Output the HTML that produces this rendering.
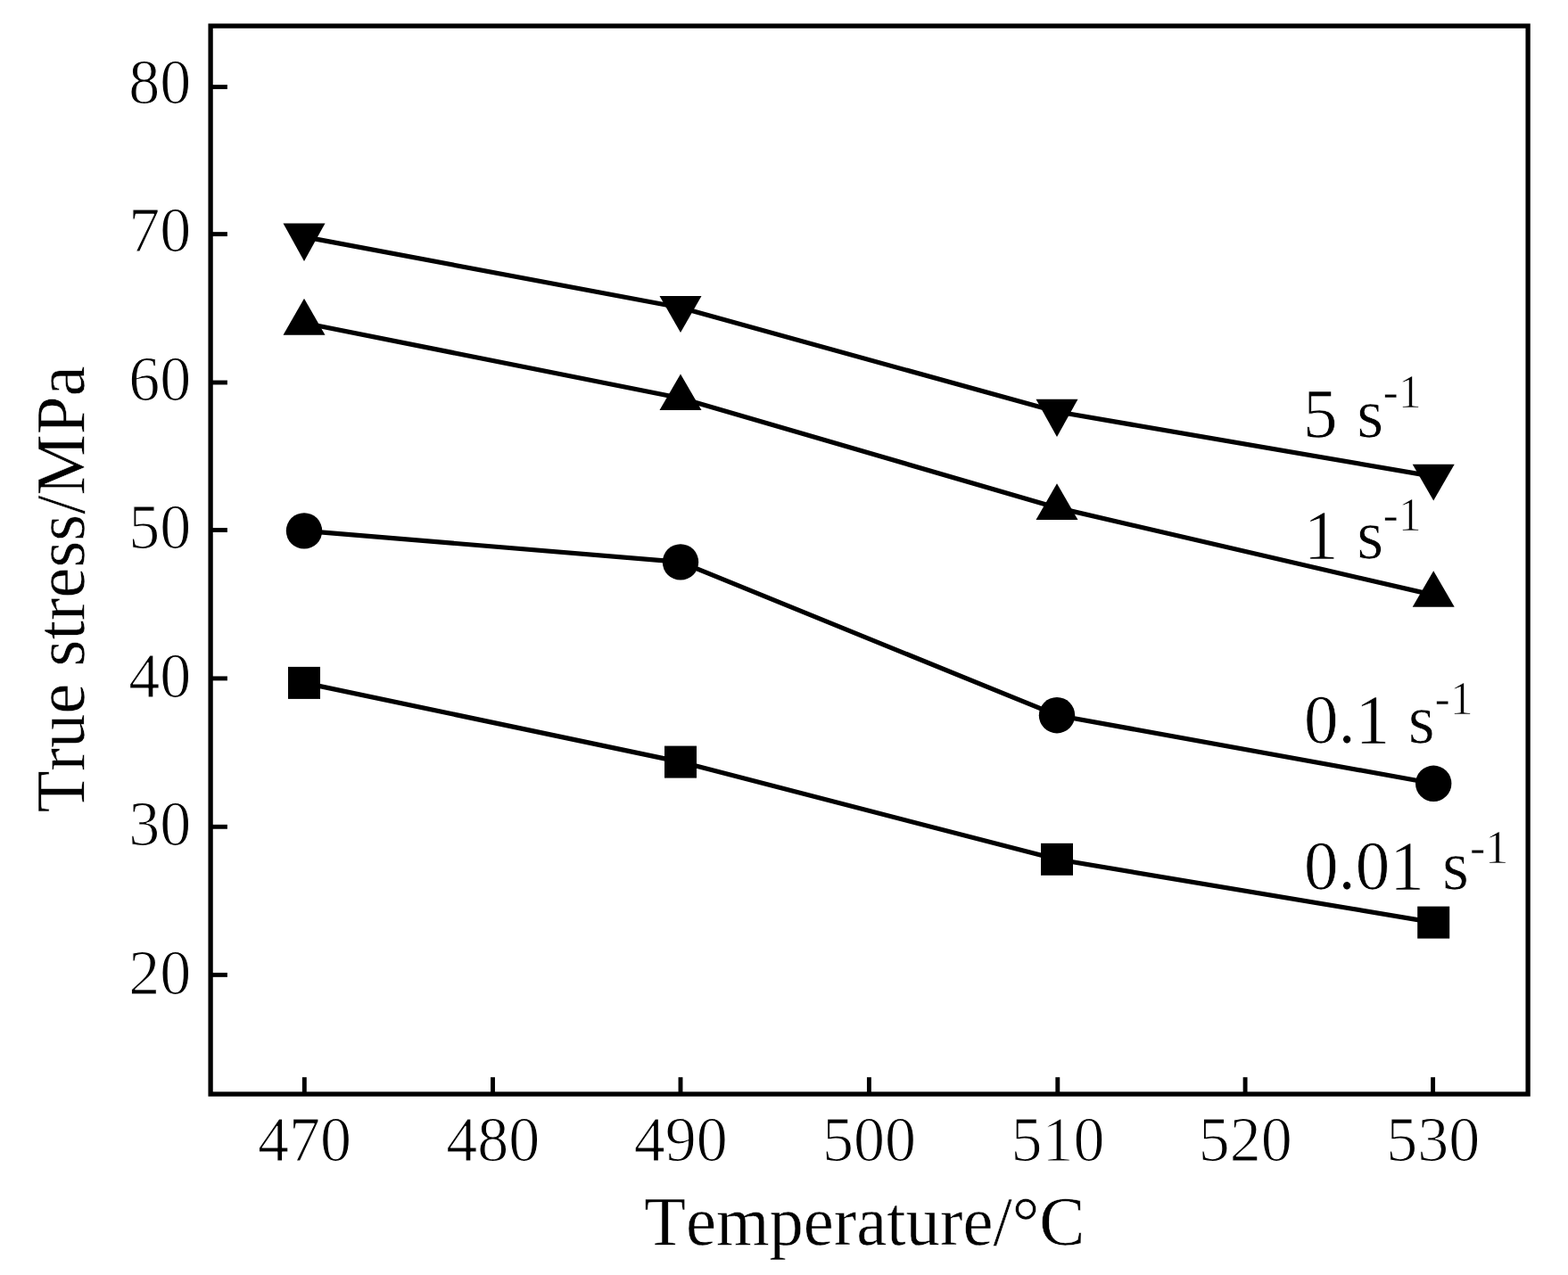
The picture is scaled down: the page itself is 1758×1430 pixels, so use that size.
<!DOCTYPE html>
<html lang="en"><head><meta charset="utf-8"><title>True stress vs temperature</title>
<style>html,body{margin:0;padding:0;background:#fff}body{width:1758px;height:1430px;overflow:hidden}svg{display:block}text{font-family:"Liberation Serif","DejaVu Serif",serif;fill:#000;font-kerning:none}</style>
</head><body>
<svg width="1758" height="1430" viewBox="0 0 1758 1430">
<rect x="0" y="0" width="1758" height="1430" fill="#fff"/>
<rect x="236.1" y="29.1" width="1477.0" height="1198.0" fill="none" stroke="#000" stroke-width="5.3"/>
<g stroke="#000" stroke-width="4.9">
<line x1="341.3" y1="1227.1" x2="341.3" y2="1208.2"/>
<line x1="552.5" y1="1227.1" x2="552.5" y2="1208.2"/>
<line x1="763.0" y1="1227.1" x2="763.0" y2="1208.2"/>
<line x1="974.4" y1="1227.1" x2="974.4" y2="1208.2"/>
<line x1="1185.8" y1="1227.1" x2="1185.8" y2="1208.2"/>
<line x1="1396.1" y1="1227.1" x2="1396.1" y2="1208.2"/>
<line x1="1606.6" y1="1227.1" x2="1606.6" y2="1208.2"/>
<line x1="236.1" y1="97.5" x2="254.9" y2="97.5"/>
<line x1="236.1" y1="262.6" x2="254.9" y2="262.6"/>
<line x1="236.1" y1="429.0" x2="254.9" y2="429.0"/>
<line x1="236.1" y1="594.5" x2="254.9" y2="594.5"/>
<line x1="236.1" y1="760.9" x2="254.9" y2="760.9"/>
<line x1="236.1" y1="927.3" x2="254.9" y2="927.3"/>
<line x1="236.1" y1="1093.4" x2="254.9" y2="1093.4"/>
</g>
<g font-size="70.0" stroke="#fff" stroke-width="1.1" stroke-linejoin="round">
<text transform="translate(341.5 1301.8) scale(1 1.030)" text-anchor="middle">470</text>
<text transform="translate(552.7 1301.8) scale(1 1.030)" text-anchor="middle">480</text>
<text transform="translate(763.2 1301.8) scale(1 1.030)" text-anchor="middle">490</text>
<text transform="translate(974.6 1301.8) scale(1 1.030)" text-anchor="middle">500</text>
<text transform="translate(1186.0 1301.8) scale(1 1.030)" text-anchor="middle">510</text>
<text transform="translate(1396.3 1301.8) scale(1 1.030)" text-anchor="middle">520</text>
<text transform="translate(1606.8 1301.8) scale(1 1.030)" text-anchor="middle">530</text>
<text transform="translate(214.2 116.0) scale(1 1.030)" text-anchor="end">80</text>
<text transform="translate(214.2 282.4) scale(1 1.030)" text-anchor="end">70</text>
<text transform="translate(214.2 449.0) scale(1 1.030)" text-anchor="end">60</text>
<text transform="translate(214.2 615.4) scale(1 1.030)" text-anchor="end">50</text>
<text transform="translate(214.2 782.0) scale(1 1.030)" text-anchor="end">40</text>
<text transform="translate(214.2 948.4) scale(1 1.030)" text-anchor="end">30</text>
<text transform="translate(214.2 1114.8) scale(1 1.030)" text-anchor="end">20</text>
</g>
<text transform="translate(969.3 1396.4) scale(1 1.030)" font-size="76.6" text-anchor="middle" stroke="#fff" stroke-width="0.5">Temperature/°C</text>
<text transform="translate(94.0 661.0) rotate(-90) scale(1 1.030)" font-size="76.8" text-anchor="middle" stroke="#fff" stroke-width="0.5">True stress/MPa</text>
<g fill="none" stroke="#000" stroke-width="5.2" stroke-linejoin="round">
<polyline points="341.0,265.6 763.0,345.0 1185.0,461.8 1607.2,534.4"/>
<polyline points="341.0,362.3 763.0,446.5 1185.0,569.4 1607.2,667.4"/>
<polyline points="341.0,595.4 763.0,630.4 1185.0,802.2 1607.2,878.8"/>
<polyline points="341.0,765.9 763.0,854.6 1185.0,963.8 1607.2,1034.6"/>
</g>
<g fill="#000">
<polygon points="317.5,250.4 364.5,250.4 341.0,293.0"/>
<polygon points="739.5,332.0 786.5,332.0 763.0,373.0"/>
<polygon points="1161.5,447.8 1208.5,447.8 1185.0,490.0"/>
<polygon points="1583.7,520.8 1630.7,520.8 1607.2,561.5"/>
<polygon points="317.5,375.8 364.5,375.8 341.0,334.8"/>
<polygon points="739.5,460.0 786.5,460.0 763.0,419.4"/>
<polygon points="1161.5,582.9 1208.5,582.9 1185.0,542.3"/>
<polygon points="1583.7,680.8 1630.7,680.8 1607.2,640.3"/>
<circle cx="341.0" cy="595.4" r="20.2"/>
<circle cx="763.0" cy="630.4" r="20.2"/>
<circle cx="1185.0" cy="802.2" r="20.2"/>
<circle cx="1607.2" cy="878.8" r="20.2"/>
<rect x="323.0" y="747.9" width="36.0" height="36.0"/>
<rect x="745.0" y="836.6" width="36.0" height="36.0"/>
<rect x="1167.0" y="945.8" width="36.0" height="36.0"/>
<rect x="1589.2" y="1016.6" width="36.0" height="36.0"/>
</g>
<text transform="translate(1461.0 490.0) scale(1 1.030)" font-size="77" stroke="#fff" stroke-width="0.7">5 <tspan dx="2.6">s</tspan><tspan font-size="52" dx="-0.8" dy="-32.0">-1</tspan></text>
<text transform="translate(1462.1 626.0) scale(1 1.030)" font-size="77" stroke="#fff" stroke-width="0.7">1 <tspan dx="1.5">s</tspan><tspan font-size="52" dx="-0.8" dy="-30.0">-1</tspan></text>
<text transform="translate(1462.0 833.2) scale(1 1.030)" font-size="77" stroke="#fff" stroke-width="0.7">0.1 <tspan dx="1.4">s</tspan><tspan font-size="52" dx="-0.4" dy="-31.0">-1</tspan></text>
<text transform="translate(1462.0 997.3) scale(1 1.030)" font-size="77" stroke="#fff" stroke-width="0.7">0.01 <tspan dx="1.0">s</tspan><tspan font-size="52" dx="1.0" dy="-28.0">-1</tspan></text>
</svg>
</body></html>
